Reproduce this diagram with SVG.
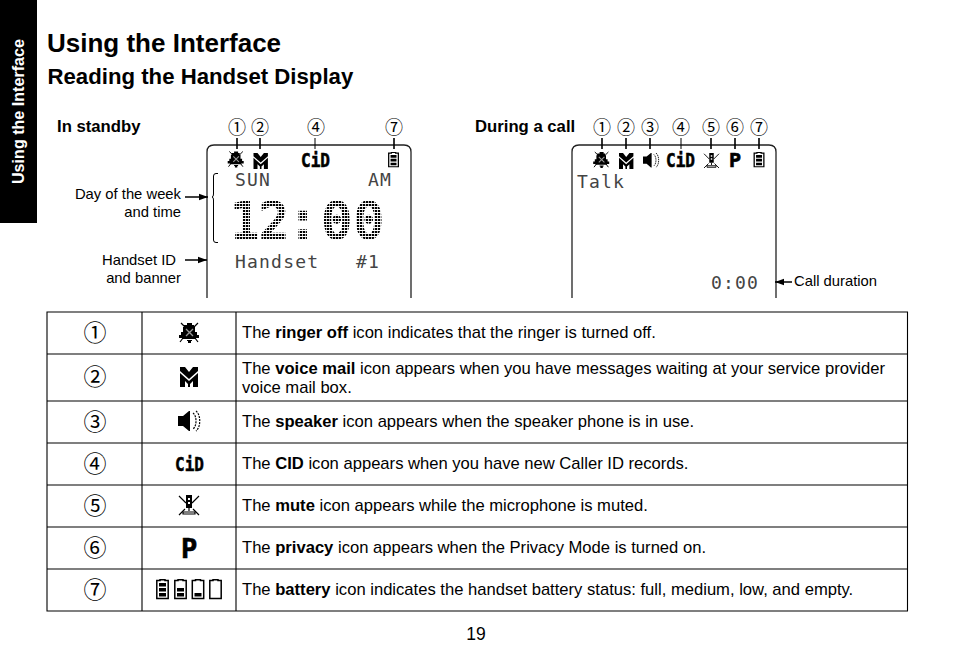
<svg xmlns="http://www.w3.org/2000/svg" xmlns:xlink="http://www.w3.org/1999/xlink" width="954" height="671" viewBox="0 0 954 671">
<style>
text{font-family:"Liberation Sans",Arial,sans-serif;fill:#000}
.h1{font-size:26px;font-weight:700}
.h2{font-size:22.2px;font-weight:700}
.lb{font-size:16.7px;font-weight:700}
.cap{font-size:14.8px}
.body{font-size:16.6px}
.body tspan.b{font-weight:700}
.num{font-family:"Noto Sans CJK SC","DejaVu Sans",sans-serif;font-size:18px;text-anchor:middle}
.numt{font-family:"Noto Sans CJK SC","DejaVu Sans",sans-serif;font-size:23px;text-anchor:middle}
.lcd{font-family:"DejaVu Sans Mono",monospace;font-size:18px;letter-spacing:1.2px;fill:#444}
.cid{font-family:"DejaVu Sans Mono",monospace;font-weight:700}
.frame{fill:none;stroke:#222;stroke-width:1.3}
.line{fill:none;stroke:#000;stroke-width:1}
.arr{fill:none;stroke:#000;stroke-width:1.5}
.lead{fill:none;stroke:#000;stroke-width:1.6}
.grid{fill:none;stroke:#000;stroke-width:1.1}
</style>
<defs>
<marker id="ah" markerWidth="10" markerHeight="8" refX="9" refY="4" orient="auto" markerUnits="userSpaceOnUse"><path d="M0 0.8L9 4L0 7.2z" fill="#000"/></marker>
<pattern id="dots" width="3" height="3" patternUnits="userSpaceOnUse"><rect width="2.2" height="2" fill="#000"/></pattern>
<g id="i-bell">
<path d="M7 0h5v2h2v2h1v5h2v3h2v3h-3v1H2v-1h-3v-3h2V9h2V4h1V2h3z" fill="#000"/>
<path d="M1 0L5 4M18 0L14 4M3 15L0 19M15 15L18 19" fill="none" stroke="#000" stroke-width="1.2"/>
<path d="M6 6L13 13M13 6L6 13" stroke="#999" stroke-width="1.3" fill="none"/>
<path d="M7 17h5v1h-1v2H8v-2H7z" fill="#000"/>
</g>
<g id="i-mail">
<path d="M0 0h5l4 5l4-5h5v4l-9 8L0 4z" fill="#000"/>
<path d="M0 6l9 8l9-8v14h-5v-6l-3 3v3H8v-3l-3-3v6H0z" fill="#000"/>
</g>
<g id="i-spk">
<path d="M0 5h5l6-5h1v20h-1l-6-5H0z" fill="#000"/>
<path d="M15 2c4 3 4 13 0 16M18 0c5 4 5 16 0 20" fill="none" stroke="#000" stroke-width="1.2" stroke-dasharray="2 1"/>
</g>
<g id="i-mute">
<path d="M7 0h6v13H7z" fill="#000"/>
<path d="M9 3h2v2H9zM9 7h2v2H9z" fill="#fff"/>
<path d="M10 13v3M4 17h12v2H4z" stroke="#000" stroke-width="1.2" fill="none"/>
<path d="M0 1L7 8M20 1L13 8M6 14L0 20M14 14L20 20" stroke="#000" stroke-width="1.2" fill="none"/>
</g>
<g id="i-bat-frame"><path d="M4 1.500V0.700h5v0.800h3.200V19.400H0.800V1.500z" fill="none" stroke="#000" stroke-width="1.5"/></g>
<g id="i-bat"><use xlink:href="#i-bat-frame"/><path d="M3 4h7v3.500H3zM3 9h7v3.500H3zM3 14h7v3.500H3z" fill="#000"/></g>
</defs>

<g id="sidebar">
<rect x="0" y="0" width="37" height="223" fill="#000"/>
<text transform="translate(24,184) rotate(-90)" font-size="16.100" font-weight="700" style="fill:#fff">Using the Interface</text>
</g>

<g id="headings">
<text class="h1" x="47" y="52">Using the Interface</text>
<text class="h2" x="47.500" y="84">Reading the Handset Display</text>
<text class="lb" x="57" y="132">In standby</text>
<text class="lb" x="475" y="132">During a call</text>
</g>

<g id="standby-display">
<path class="frame" d="M207 298V152q0-7 7-7H404q7 0 7 7V298"/>
<use xlink:href="#i-bell" transform="translate(228.500,151.500) scale(.8)"/>
<use xlink:href="#i-mail" transform="translate(253.500,153) scale(.8)"/>
<text class="cid" x="301" y="167" font-size="20" textLength="29" lengthAdjust="spacingAndGlyphs" stroke="#000" stroke-width=".6">CiD</text>
<use xlink:href="#i-bat" transform="translate(388,152) scale(.85,.76)"/>
<text class="lcd" x="235" y="186">SUN</text>
<text class="lcd" x="368" y="186">AM</text>
<text x="230 259 288 322 354" y="238" font-size="49" style="font-family:'DejaVu Sans Mono',monospace;fill:url(#dots);stroke:url(#dots);stroke-width:2.4">12:00</text>
<text class="lcd" x="235" y="268">Handset</text>
<text class="lcd" x="356" y="268">#1</text>
</g>

<g id="call-display">
<path class="frame" d="M572 298V152q0-7 7-7H769q7 0 7 7V298"/>
<use xlink:href="#i-bell" transform="translate(594,152) scale(.8)"/>
<use xlink:href="#i-mail" transform="translate(619,153) scale(.8)"/>
<use xlink:href="#i-spk" transform="translate(643,153) scale(.72)"/>
<text class="cid" x="666" y="167" font-size="20" textLength="29" lengthAdjust="spacingAndGlyphs" stroke="#000" stroke-width=".6">CiD</text>
<use xlink:href="#i-mute" transform="translate(704,153) scale(.75)"/>
<text class="cid" x="729" y="167" font-size="20" stroke="#000" stroke-width=".6">P</text>
<use xlink:href="#i-bat" transform="translate(753.500,152) scale(.85,.76)"/>
<text class="lcd" x="577" y="188">Talk</text>
<text class="lcd" x="711" y="289">0:00</text>
</g>

<g id="callouts">
<text class="num" x="237" y="134">①</text><text class="num" x="260" y="134">②</text><text class="num" x="316" y="134">④</text><text class="num" x="394" y="134">⑦</text>
<text class="num" x="602" y="134">①</text><text class="num" x="626" y="134">②</text><text class="num" x="650" y="134">③</text><text class="num" x="681" y="134">④</text><text class="num" x="711" y="134">⑤</text><text class="num" x="735" y="134">⑥</text><text class="num" x="759" y="134">⑦</text>
<text class="cap" x="181" y="199" text-anchor="end">Day of the week</text>
<text class="cap" x="181" y="217" text-anchor="end">and time</text>
<text class="cap" x="176" y="265" text-anchor="end">Handset ID</text>
<text class="cap" x="181" y="283" text-anchor="end">and banner</text>
<text class="cap" x="794" y="286">Call duration</text>
</g>

<g id="connectors">
<path class="lead" d="M237 138V149M260 138V149M394 138V149M602 138V149M626 138V149M650 138V149M711 138V149M735 138V149M759 138V149"/>
<path class="line" d="M315 138V149M681 138V149"/>
<path class="arr" d="M185 197H208" marker-end="url(#ah)"/>
<path class="arr" d="M185 260H207" marker-end="url(#ah)"/>
<path class="arr" d="M792 282H775" marker-end="url(#ah)"/>
<path class="line" d="M218 173.500h-2q-2.500 0-2.500 2.500V194q0 3-1.500 3q1.500 0 1.500 3V240q0 2.500 2.500 2.500h2"/>
</g>

<g id="table">
<path class="grid" d="M47 312H907.500V611H47zM142 312V611M236 312V611M47 354H907.500M47 401H907.500M47 443H907.500M47 485H907.500M47 527H907.500M47 569H907.500"/>
</g>
<g id="row-1"><text class="numt" x="95" y="341">①</text><use xlink:href="#i-bell" transform="translate(180,323)"/><text class="body" x="242" y="338">The <tspan class="b">ringer off</tspan> icon indicates that the ringer is turned off.</text></g>
<g id="row-2"><text class="numt" x="95" y="385">②</text><use xlink:href="#i-mail" transform="translate(180,367)"/><text class="body" x="242" y="374">The <tspan class="b">voice mail</tspan> icon appears when you have messages waiting at your service provider</text><text class="body" x="242" y="393">voice mail box.</text></g>
<g id="row-3"><text class="numt" x="95" y="430">③</text><use xlink:href="#i-spk" transform="translate(178,411)"/><text class="body" x="242" y="427">The <tspan class="b">speaker</tspan> icon appears when the speaker phone is in use.</text></g>
<g id="row-4"><text class="numt" x="95" y="472">④</text><text class="cid" x="175" y="471" font-size="20" textLength="29" lengthAdjust="spacingAndGlyphs" stroke="#000" stroke-width=".5">CiD</text><text class="body" x="242" y="469">The <tspan class="b">CID</tspan> icon appears when you have new Caller ID records.</text></g>
<g id="row-5"><text class="numt" x="95" y="514">⑤</text><use xlink:href="#i-mute" transform="translate(179,495)"/><text class="body" x="242" y="511">The <tspan class="b">mute</tspan> icon appears while the microphone is muted.</text></g>
<g id="row-6"><text class="numt" x="95" y="556">⑥</text><text class="cid" x="181" y="558" font-size="27" stroke="#000" stroke-width=".6">P</text><text class="body" x="242" y="553">The <tspan class="b">privacy</tspan> icon appears when the Privacy Mode is turned on.</text></g>
<g id="row-7"><text class="numt" x="95" y="598">⑦</text>
<use xlink:href="#i-bat" transform="translate(156,579)"/>
<g transform="translate(174,579)"><use xlink:href="#i-bat-frame"/><path d="M3 9h7v3.500H3zM3 14h7v3.500H3z" fill="#000"/></g>
<g transform="translate(191.500,579)"><use xlink:href="#i-bat-frame"/><path d="M3 14h7v3.500H3z" fill="#000"/></g>
<use xlink:href="#i-bat-frame" transform="translate(209,579)"/>
<text class="body" x="242" y="595">The <tspan class="b">battery</tspan> icon indicates the handset battery status: full, medium, low, and empty.</text></g>

<text id="page" x="476" y="640" font-size="17.500" text-anchor="middle">19</text>
</svg>
